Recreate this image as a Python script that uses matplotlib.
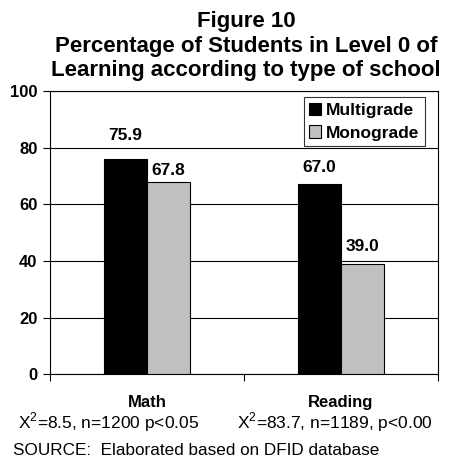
import matplotlib
matplotlib.use("Agg")
import matplotlib.pyplot as plt
import numpy as np

plt.rcParams["font.family"] = ["Liberation Sans", "DejaVu Sans"]
plt.rcParams["mathtext.fontset"] = "custom"
plt.rcParams["mathtext.rm"] = "Liberation Sans"

# data
subjects = ["Math", "Reading"]
multigrade = [75.9, 67.0]
monograde = [67.8, 39.0]
series_names = ["Multigrade", "Monograde"]
stats_notes = ["X$^{2}$=8.5, n=1200 p<0.05", "X$^{2}$=83.7, n=1189, p<0.00"]
y_ticks = [0, 20, 40, 60, 80, 100]

# label offsets (points) above each bar, as in the original
lab_off = [[12, 3], [7, 7]]
note_shift = [-0.2, -0.03]

fig = plt.figure(figsize=(4.54, 4.65), dpi=100)
ax = fig.add_axes([50 / 454, 1 - 374.3 / 465, 388 / 454, 283.3 / 465])

x = np.arange(len(subjects))
w = 0.222
ax.bar(x - w / 2, multigrade, w, color="black", edgecolor="black", lw=0.8,
       label=series_names[0], zorder=3)
ax.bar(x + w / 2, monograde, w, color="#c0c0c0", edgecolor="black", lw=0.8,
       label=series_names[1], zorder=3)

for i in range(len(subjects)):
    ax.annotate(f"{multigrade[i]:.1f}", (x[i] - w / 2, multigrade[i]),
                xytext=(0, lab_off[i][0]), textcoords="offset points",
                ha="center", va="bottom", fontsize=12.5, fontweight="bold")
    ax.annotate(f"{monograde[i]:.1f}", (x[i] + w / 2, monograde[i]),
                xytext=(0, lab_off[i][1]), textcoords="offset points",
                ha="center", va="bottom", fontsize=12.5, fontweight="bold")

ax.set_xlim(-0.5, len(subjects) - 0.5)
ax.set_ylim(0, 100)
ax.set_yticks(y_ticks)
ax.set_yticklabels([str(t) for t in y_ticks], fontsize=12, fontweight="bold")
ax.yaxis.grid(True, color="black", lw=0.8)
ax.set_axisbelow(True)

# category boundary ticks, names below
ax.set_xticks(np.arange(len(subjects) + 1) - 0.5)
ax.set_xticklabels([])
ax.tick_params(axis="both", direction="out", length=5, width=0.8, color="black")
ax.tick_params(axis="y", pad=4)
for i, s in enumerate(subjects):
    ax.text(x[i], -10, s, ha="center", va="center", fontsize=12,
            fontweight="bold")
    ax.text(x[i] + note_shift[i], -17, stats_notes[i], ha="center", va="center",
            fontsize=12.5)

for sp in ax.spines.values():
    sp.set_color("black")
    sp.set_linewidth(0.8)

leg = ax.legend(loc="upper right", bbox_to_anchor=(0.975, 0.99),
                prop={"weight": "bold", "size": 12.5}, frameon=True, fancybox=False,
                edgecolor="black", handlelength=0.7, handleheight=0.7,
                handletextpad=0.3, borderpad=0.3, labelspacing=0.45,
                borderaxespad=0.2)
leg.get_frame().set_linewidth(0.8)

fig.text(0.542, 1 - 11 / 465, "Figure 10\nPercentage of Students in Level 0 of\n"
         "Learning according to type of school", ha="center", va="top",
         fontsize=16, fontweight="bold", linespacing=1.22)
fig.text(13 / 454, 1 - 450 / 465, "SOURCE:  Elaborated based on DFID database",
         ha="left", va="center", fontsize=12.3)

fig.savefig("out.png", dpi=100)
